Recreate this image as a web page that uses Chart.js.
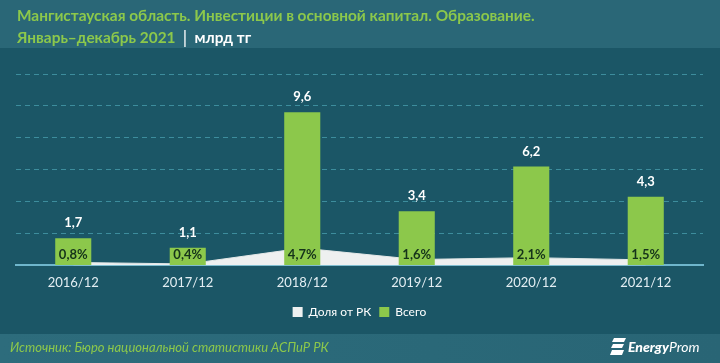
<!DOCTYPE html>
<html>
<head>
<meta charset="utf-8">
<script src="https://cdn.jsdelivr.net/npm/chart.js@4"></script>
<style>
html,body{margin:0;padding:0;}
body{width:720px;height:363px;position:relative;overflow:hidden;background:#1b5666;font-family:Lato,"Noto Sans",sans-serif;}
#hdr{position:absolute;left:0;top:0;width:720px;height:48px;background:#2a6777;}
#ftr{position:absolute;left:0;top:334px;width:720px;height:29px;background:linear-gradient(90deg,#2d6c7c,#2a6878 60%,#296575);}
#wrap{position:absolute;left:0;top:0;width:720px;height:363px;}
.t{position:absolute;left:17px;color:#8cc84b;font-weight:bold;font-size:15.4px;white-space:nowrap;}
#t1{top:6px;}
#t2{top:28px;}
#t2 span{color:#ffffff;}
#src{position:absolute;left:10px;top:339px;color:#8cc84b;font-style:italic;font-size:13px;white-space:nowrap;}
#logo{position:absolute;left:628px;top:338px;color:#ffffff;font-size:14px;font-style:italic;white-space:nowrap;}
#logo b{font-weight:900;}
#ico{position:absolute;left:-18px;top:0px;width:16px;height:18px;}
</style>
</head>
<body>
<div id="hdr"></div>
<div id="ftr"></div>
<div id="wrap"><canvas id="c" width="720" height="363"></canvas></div>
<div class="t" id="t1">Мангистауская область. Инвестиции в основной капитал. Образование.</div>
<div class="t" id="t2">Январь–декабрь 2021 <span>│ млрд тг</span></div>
<div id="src">Источник: Бюро национальной статистики АСПиР РК</div>
<div id="logo"><svg id="ico" viewBox="0 0 16 18"><g fill="#ffffff"><polygon points="4,0 16,0 14,4 2,4"/><polygon points="3,6 14,6 12,10 1,10"/><polygon points="2,12 14,12 12,17 0,17"/></g></svg><b>Energy</b>Prom</div>
<script>
const categories = ["2016/12","2017/12","2018/12","2019/12","2020/12","2021/12"];
const totalValues = [1.7, 1.1, 9.6, 3.4, 6.2, 4.3];
const shareValues = [0.8, 0.4, 4.7, 1.6, 2.1, 1.5];
const totalLabels = ["1,7","1,1","9,6","3,4","6,2","4,3"];
const shareLabels = ["0,8%","0,4%","4,7%","1,6%","2,1%","1,5%"];
const yTicks = [0, 2, 4, 6, 8, 10, 12];

const labelPlugin = {
  id: 'labels',
  afterDatasetsDraw(chart) {
    const ctx = chart.ctx;
    const meta = chart.getDatasetMeta(1);
    ctx.save();
    ctx.textAlign = 'center';
    ctx.textBaseline = 'middle';
    meta.data.forEach((bar, i) => {
      ctx.font = 'bold 13px Lato, "Noto Sans", sans-serif';
      ctx.fillStyle = '#ffffff';
      ctx.fillText(totalLabels[i], bar.x, bar.y - 15);
      ctx.font = 'bold 13px Lato, "Noto Sans", sans-serif';
      ctx.fillStyle = '#15331a';
      ctx.fillText(shareLabels[i], bar.x, bar.base - 10);
    });
    ctx.restore();
  }
};

new Chart(document.getElementById('c'), {
  data: {
    labels: categories,
    datasets: [
      {
        type: 'line',
        label: 'Доля от РК',
        data: shareValues,
        yAxisID: 'y1',
        order: 2,
        fill: 'origin',
        backgroundColor: '#eef0f0',
        borderColor: '#e4e8e8',
        borderWidth: 1,
        pointRadius: 0,
        tension: 0
      },
      {
        type: 'bar',
        label: 'Всего',
        data: totalValues,
        yAxisID: 'y',
        order: 1,
        backgroundColor: '#8cc84b',
        barPercentage: 1,
        categoryPercentage: 0.315
      }
    ]
  },
  options: {
    responsive: false,
    animation: false,
    layout: { padding: { left: 16, right: 17, top: 74, bottom: 35 } },
    plugins: {
      legend: {
        position: 'bottom',
        labels: {
          color: '#ffffff',
          font: { size: 12, family: 'Lato, "Noto Sans", sans-serif' },
          boxWidth: 10, boxHeight: 10, padding: 8,
          generateLabels(chart) {
            return chart.data.datasets.map((d, i) => ({
              text: d.label,
              fillStyle: i === 0 ? '#eef0f0' : '#8cc84b',
              strokeStyle: i === 0 ? '#eef0f0' : '#8cc84b',
              lineWidth: 0,
              fontColor: '#ffffff',
              datasetIndex: i,
              hidden: false
            }));
          }
        }
      },
      tooltip: { enabled: false }
    },
    scales: {
      x: {
        offset: true,
        afterFit(axis) { axis.height += 5; },
        grid: { display: false },
        border: { display: true, color: '#6fb6cc', width: 2 },
        ticks: { color: '#e3eef3', font: { size: 13, family: 'Lato, "Noto Sans", sans-serif' }, padding: 2 }
      },
      y: {
        min: 0, max: 12,
        afterBuildTicks(axis) { axis.ticks = yTicks.map(v => ({ value: v })); },
        ticks: { display: false },
        border: { display: false, dash: [5, 4] },
        grid: {
          color: (c) => c.tick && c.tick.value === 0 ? 'rgba(0,0,0,0)' : '#3d8d9d',
          lineWidth: 1,
          drawTicks: false
        }
      },
      y1: {
        display: false,
        min: 0, max: 52
      }
    }
  },
  plugins: [labelPlugin]
});
</script>
</body>
</html>
